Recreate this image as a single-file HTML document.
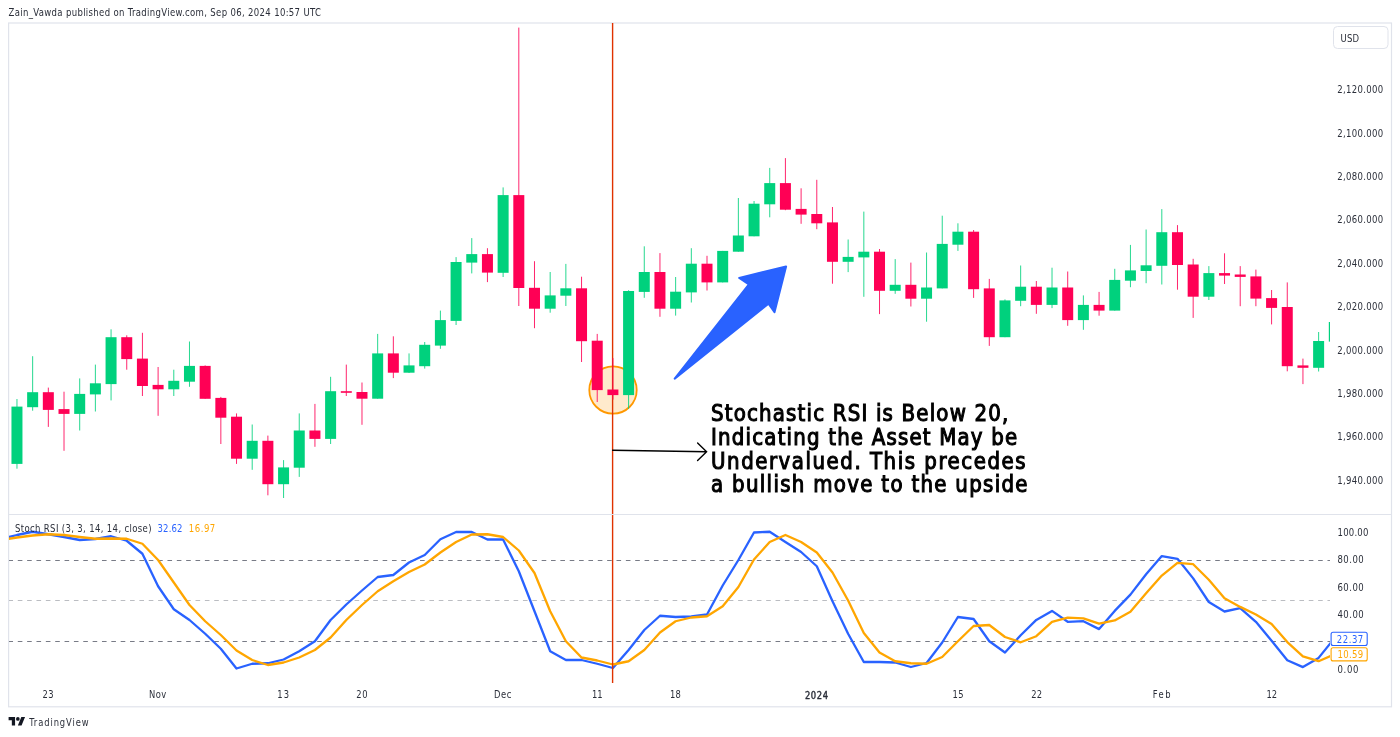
<!DOCTYPE html>
<html><head><meta charset="utf-8"><title>XAUUSD Stoch RSI chart</title>
<style>
html,body{margin:0;padding:0;background:#fff;}
body{width:1400px;height:737px;overflow:hidden;position:relative;}
svg{position:absolute;left:0;top:0;display:block;filter:blur(0.35px);}
text{font-family:"DejaVu Sans Condensed",Arial,sans-serif;}
.ax{font-size:9.48px;fill:#2a2e39;}
.dt{font-size:9.31px;}
.yr{stroke:#2a2e39;stroke-width:0.35px;}
.hdr{font-size:9.48px;fill:#2a2e39;}
.leg{font-size:9.48px;fill:#2a2e39;}
.note{font-family:"DejaVu Sans Condensed",Verdana,sans-serif;font-size:22.0px;fill:#000;stroke:#000;stroke-width:1.0px;}
.ft{font-size:9.31px;fill:#2a2e39;}
</style></head>
<body>
<svg width="1400" height="737" viewBox="0 0 1400 737">
<defs>
<clipPath id="mainclip"><rect x="9" y="23" width="1321" height="491"/></clipPath>
<clipPath id="subclip"><rect x="9" y="515" width="1321" height="168"/></clipPath>
</defs>
<rect x="0" y="0" width="1400" height="737" fill="#fff"/>
<text id="hdr" class="hdr" x="8.50" y="16.00" textLength="312.46" lengthAdjust="spacing" transform="matrix(1,0,0,1.1600,0,-2.560)">Zain_Vawda published on TradingView.com, Sep 06, 2024 10:57 UTC</text>
<rect x="8.6" y="23" width="1382.9" height="683.8" fill="none" stroke="#e0e3eb" stroke-width="1.2"/>
<rect x="9" y="514" width="1382" height="1" fill="#e0e3eb"/>

<g clip-path="url(#mainclip)">
<circle cx="613" cy="390" r="23.7" fill="#ff9800" fill-opacity="0.2" stroke="#ff9800" stroke-width="1.8"/>
<line x1="612.6" y1="23" x2="612.6" y2="514" stroke="#e03200" stroke-width="1.4"/>
<rect x="16.46" y="399.0" width="1" height="69.7" fill="#00d17d" fill-opacity="0.85"/>
<rect x="11.46" y="406.6" width="11" height="57.3" fill="#00d17d"/>
<rect x="32.14" y="356.2" width="1" height="54.5" fill="#00d17d" fill-opacity="0.85"/>
<rect x="27.14" y="392.2" width="11" height="15.0" fill="#00d17d"/>
<rect x="47.83" y="387.6" width="1" height="39.3" fill="#ff0055" fill-opacity="0.85"/>
<rect x="42.83" y="392.2" width="11" height="17.7" fill="#ff0055"/>
<rect x="63.51" y="391.7" width="1" height="59.1" fill="#ff0055" fill-opacity="0.85"/>
<rect x="58.51" y="409.1" width="11" height="4.8" fill="#ff0055"/>
<rect x="79.19" y="378.4" width="1" height="52.1" fill="#00d17d" fill-opacity="0.85"/>
<rect x="74.19" y="393.9" width="11" height="20.0" fill="#00d17d"/>
<rect x="94.87" y="364.6" width="1" height="46.9" fill="#00d17d" fill-opacity="0.85"/>
<rect x="89.87" y="383.3" width="11" height="11.1" fill="#00d17d"/>
<rect x="110.56" y="329.3" width="1" height="71.1" fill="#00d17d" fill-opacity="0.85"/>
<rect x="105.56" y="337.2" width="11" height="46.9" fill="#00d17d"/>
<rect x="126.24" y="335.3" width="1" height="34.4" fill="#ff0055" fill-opacity="0.85"/>
<rect x="121.24" y="337.2" width="11" height="21.9" fill="#ff0055"/>
<rect x="141.92" y="332.8" width="1" height="63.2" fill="#ff0055" fill-opacity="0.85"/>
<rect x="136.92" y="358.6" width="11" height="27.4" fill="#ff0055"/>
<rect x="157.60" y="367.0" width="1" height="48.8" fill="#ff0055" fill-opacity="0.85"/>
<rect x="152.60" y="384.9" width="11" height="4.4" fill="#ff0055"/>
<rect x="173.29" y="369.7" width="1" height="26.3" fill="#00d17d" fill-opacity="0.85"/>
<rect x="168.29" y="380.8" width="11" height="8.5" fill="#00d17d"/>
<rect x="188.97" y="341.5" width="1" height="45.3" fill="#00d17d" fill-opacity="0.85"/>
<rect x="183.97" y="365.9" width="11" height="15.8" fill="#00d17d"/>
<rect x="204.65" y="365.4" width="1" height="33.4" fill="#ff0055" fill-opacity="0.85"/>
<rect x="199.65" y="365.9" width="11" height="32.9" fill="#ff0055"/>
<rect x="220.34" y="396.9" width="1" height="47.1" fill="#ff0055" fill-opacity="0.85"/>
<rect x="215.34" y="397.9" width="11" height="19.8" fill="#ff0055"/>
<rect x="236.02" y="413.4" width="1" height="50.5" fill="#ff0055" fill-opacity="0.85"/>
<rect x="231.02" y="416.7" width="11" height="42.0" fill="#ff0055"/>
<rect x="251.70" y="424.5" width="1" height="45.3" fill="#00d17d" fill-opacity="0.85"/>
<rect x="246.70" y="440.8" width="11" height="17.9" fill="#00d17d"/>
<rect x="267.38" y="435.6" width="1" height="59.7" fill="#ff0055" fill-opacity="0.85"/>
<rect x="262.38" y="440.8" width="11" height="43.4" fill="#ff0055"/>
<rect x="283.07" y="460.1" width="1" height="37.9" fill="#00d17d" fill-opacity="0.85"/>
<rect x="278.07" y="467.4" width="11" height="16.8" fill="#00d17d"/>
<rect x="298.75" y="413.4" width="1" height="63.5" fill="#00d17d" fill-opacity="0.85"/>
<rect x="293.75" y="430.5" width="11" height="37.2" fill="#00d17d"/>
<rect x="314.43" y="403.9" width="1" height="42.9" fill="#ff0055" fill-opacity="0.85"/>
<rect x="309.43" y="430.5" width="11" height="8.4" fill="#ff0055"/>
<rect x="330.11" y="376.8" width="1" height="67.2" fill="#00d17d" fill-opacity="0.85"/>
<rect x="325.11" y="391.2" width="11" height="47.7" fill="#00d17d"/>
<rect x="345.80" y="364.6" width="1" height="31.4" fill="#ff0055" fill-opacity="0.85"/>
<rect x="340.80" y="391.2" width="11" height="1.6" fill="#ff0055"/>
<rect x="361.48" y="382.5" width="1" height="42.3" fill="#ff0055" fill-opacity="0.85"/>
<rect x="356.48" y="392.0" width="11" height="6.7" fill="#ff0055"/>
<rect x="377.16" y="333.9" width="1" height="64.8" fill="#00d17d" fill-opacity="0.85"/>
<rect x="372.16" y="353.4" width="11" height="45.3" fill="#00d17d"/>
<rect x="392.84" y="336.3" width="1" height="41.8" fill="#ff0055" fill-opacity="0.85"/>
<rect x="387.84" y="353.4" width="11" height="19.3" fill="#ff0055"/>
<rect x="408.53" y="353.4" width="1" height="19.6" fill="#00d17d" fill-opacity="0.85"/>
<rect x="403.53" y="365.4" width="11" height="7.3" fill="#00d17d"/>
<rect x="424.21" y="342.0" width="1" height="26.6" fill="#00d17d" fill-opacity="0.85"/>
<rect x="419.21" y="344.8" width="11" height="21.4" fill="#00d17d"/>
<rect x="439.89" y="310.6" width="1" height="38.2" fill="#00d17d" fill-opacity="0.85"/>
<rect x="434.89" y="320.1" width="11" height="25.5" fill="#00d17d"/>
<rect x="455.58" y="257.1" width="1" height="67.9" fill="#00d17d" fill-opacity="0.85"/>
<rect x="450.58" y="262.0" width="11" height="58.9" fill="#00d17d"/>
<rect x="471.26" y="238.1" width="1" height="35.3" fill="#00d17d" fill-opacity="0.85"/>
<rect x="466.26" y="254.1" width="11" height="8.5" fill="#00d17d"/>
<rect x="486.94" y="248.2" width="1" height="33.9" fill="#ff0055" fill-opacity="0.85"/>
<rect x="481.94" y="254.1" width="11" height="18.5" fill="#ff0055"/>
<rect x="502.62" y="187.4" width="1" height="89.6" fill="#00d17d" fill-opacity="0.85"/>
<rect x="497.62" y="195.1" width="11" height="77.7" fill="#00d17d"/>
<rect x="518.31" y="27.6" width="1" height="278.4" fill="#ff0055" fill-opacity="0.85"/>
<rect x="513.31" y="195.1" width="11" height="92.9" fill="#ff0055"/>
<rect x="533.99" y="261.2" width="1" height="67.0" fill="#ff0055" fill-opacity="0.85"/>
<rect x="528.99" y="287.8" width="11" height="20.9" fill="#ff0055"/>
<rect x="549.67" y="272.0" width="1" height="40.7" fill="#00d17d" fill-opacity="0.85"/>
<rect x="544.67" y="295.4" width="11" height="13.3" fill="#00d17d"/>
<rect x="565.35" y="263.9" width="1" height="42.1" fill="#00d17d" fill-opacity="0.85"/>
<rect x="560.35" y="288.3" width="11" height="7.4" fill="#00d17d"/>
<rect x="581.04" y="276.7" width="1" height="85.3" fill="#ff0055" fill-opacity="0.85"/>
<rect x="576.04" y="288.3" width="11" height="52.9" fill="#ff0055"/>
<rect x="596.72" y="333.9" width="1" height="68.1" fill="#ff0055" fill-opacity="0.85"/>
<rect x="591.72" y="340.7" width="11" height="49.4" fill="#ff0055"/>
<rect x="612.40" y="358.1" width="1" height="41.5" fill="#ff0055" fill-opacity="0.85"/>
<rect x="607.40" y="389.5" width="11" height="5.6" fill="#ff0055"/>
<rect x="628.09" y="290.2" width="1" height="118.6" fill="#00d17d" fill-opacity="0.85"/>
<rect x="623.09" y="291.0" width="11" height="104.1" fill="#00d17d"/>
<rect x="643.77" y="246.3" width="1" height="51.5" fill="#00d17d" fill-opacity="0.85"/>
<rect x="638.77" y="272.0" width="11" height="19.9" fill="#00d17d"/>
<rect x="659.45" y="253.1" width="1" height="63.7" fill="#ff0055" fill-opacity="0.85"/>
<rect x="654.45" y="272.0" width="11" height="36.7" fill="#ff0055"/>
<rect x="675.13" y="277.0" width="1" height="38.6" fill="#00d17d" fill-opacity="0.85"/>
<rect x="670.13" y="291.7" width="11" height="17.0" fill="#00d17d"/>
<rect x="690.82" y="248.2" width="1" height="54.3" fill="#00d17d" fill-opacity="0.85"/>
<rect x="685.82" y="263.7" width="11" height="28.7" fill="#00d17d"/>
<rect x="706.50" y="255.8" width="1" height="34.7" fill="#ff0055" fill-opacity="0.85"/>
<rect x="701.50" y="263.7" width="11" height="18.7" fill="#ff0055"/>
<rect x="722.18" y="250.9" width="1" height="31.5" fill="#00d17d" fill-opacity="0.85"/>
<rect x="717.18" y="250.9" width="11" height="31.5" fill="#00d17d"/>
<rect x="737.86" y="198.0" width="1" height="53.7" fill="#00d17d" fill-opacity="0.85"/>
<rect x="732.86" y="235.5" width="11" height="16.2" fill="#00d17d"/>
<rect x="753.55" y="201.0" width="1" height="35.3" fill="#00d17d" fill-opacity="0.85"/>
<rect x="748.55" y="203.7" width="11" height="32.6" fill="#00d17d"/>
<rect x="769.23" y="167.9" width="1" height="49.4" fill="#00d17d" fill-opacity="0.85"/>
<rect x="764.23" y="183.1" width="11" height="21.2" fill="#00d17d"/>
<rect x="784.91" y="158.1" width="1" height="52.1" fill="#ff0055" fill-opacity="0.85"/>
<rect x="779.91" y="183.1" width="11" height="26.6" fill="#ff0055"/>
<rect x="800.60" y="188.3" width="1" height="35.5" fill="#ff0055" fill-opacity="0.85"/>
<rect x="795.60" y="208.9" width="11" height="5.7" fill="#ff0055"/>
<rect x="816.28" y="179.8" width="1" height="49.4" fill="#ff0055" fill-opacity="0.85"/>
<rect x="811.28" y="214.0" width="11" height="9.3" fill="#ff0055"/>
<rect x="831.96" y="207.0" width="1" height="76.7" fill="#ff0055" fill-opacity="0.85"/>
<rect x="826.96" y="222.4" width="11" height="39.4" fill="#ff0055"/>
<rect x="847.64" y="239.5" width="1" height="32.6" fill="#00d17d" fill-opacity="0.85"/>
<rect x="842.64" y="256.9" width="11" height="4.9" fill="#00d17d"/>
<rect x="863.33" y="211.6" width="1" height="85.2" fill="#00d17d" fill-opacity="0.85"/>
<rect x="858.33" y="251.7" width="11" height="5.7" fill="#00d17d"/>
<rect x="879.01" y="249.0" width="1" height="65.1" fill="#ff0055" fill-opacity="0.85"/>
<rect x="874.01" y="251.7" width="11" height="39.1" fill="#ff0055"/>
<rect x="894.69" y="259.1" width="1" height="34.7" fill="#00d17d" fill-opacity="0.85"/>
<rect x="889.69" y="284.8" width="11" height="6.0" fill="#00d17d"/>
<rect x="910.37" y="262.6" width="1" height="43.9" fill="#ff0055" fill-opacity="0.85"/>
<rect x="905.37" y="284.8" width="11" height="13.9" fill="#ff0055"/>
<rect x="926.06" y="252.5" width="1" height="69.2" fill="#00d17d" fill-opacity="0.85"/>
<rect x="921.06" y="287.5" width="11" height="11.2" fill="#00d17d"/>
<rect x="941.74" y="215.7" width="1" height="72.7" fill="#00d17d" fill-opacity="0.85"/>
<rect x="936.74" y="243.9" width="11" height="44.5" fill="#00d17d"/>
<rect x="957.42" y="223.3" width="1" height="27.6" fill="#00d17d" fill-opacity="0.85"/>
<rect x="952.42" y="231.7" width="11" height="13.0" fill="#00d17d"/>
<rect x="973.10" y="230.0" width="1" height="67.9" fill="#ff0055" fill-opacity="0.85"/>
<rect x="968.10" y="231.7" width="11" height="57.5" fill="#ff0055"/>
<rect x="988.79" y="278.9" width="1" height="67.0" fill="#ff0055" fill-opacity="0.85"/>
<rect x="983.79" y="288.4" width="11" height="48.8" fill="#ff0055"/>
<rect x="1004.47" y="299.4" width="1" height="37.8" fill="#00d17d" fill-opacity="0.85"/>
<rect x="999.47" y="300.4" width="11" height="36.8" fill="#00d17d"/>
<rect x="1020.15" y="265.5" width="1" height="40.7" fill="#00d17d" fill-opacity="0.85"/>
<rect x="1015.15" y="286.7" width="11" height="14.1" fill="#00d17d"/>
<rect x="1035.84" y="281.0" width="1" height="32.8" fill="#ff0055" fill-opacity="0.85"/>
<rect x="1030.84" y="286.7" width="11" height="18.2" fill="#ff0055"/>
<rect x="1051.52" y="267.7" width="1" height="40.4" fill="#00d17d" fill-opacity="0.85"/>
<rect x="1046.52" y="287.5" width="11" height="17.4" fill="#00d17d"/>
<rect x="1067.20" y="271.5" width="1" height="54.3" fill="#ff0055" fill-opacity="0.85"/>
<rect x="1062.20" y="287.5" width="11" height="32.6" fill="#ff0055"/>
<rect x="1082.88" y="295.4" width="1" height="34.4" fill="#00d17d" fill-opacity="0.85"/>
<rect x="1077.88" y="304.9" width="11" height="15.2" fill="#00d17d"/>
<rect x="1098.57" y="291.9" width="1" height="23.8" fill="#ff0055" fill-opacity="0.85"/>
<rect x="1093.57" y="304.9" width="11" height="5.7" fill="#ff0055"/>
<rect x="1114.25" y="268.8" width="1" height="41.8" fill="#00d17d" fill-opacity="0.85"/>
<rect x="1109.25" y="279.9" width="11" height="30.7" fill="#00d17d"/>
<rect x="1129.93" y="244.9" width="1" height="42.3" fill="#00d17d" fill-opacity="0.85"/>
<rect x="1124.93" y="270.4" width="11" height="10.3" fill="#00d17d"/>
<rect x="1145.61" y="229.5" width="1" height="53.7" fill="#00d17d" fill-opacity="0.85"/>
<rect x="1140.61" y="265.3" width="11" height="5.7" fill="#00d17d"/>
<rect x="1161.30" y="209.1" width="1" height="75.4" fill="#00d17d" fill-opacity="0.85"/>
<rect x="1156.30" y="232.2" width="11" height="33.6" fill="#00d17d"/>
<rect x="1176.98" y="225.1" width="1" height="64.6" fill="#ff0055" fill-opacity="0.85"/>
<rect x="1171.98" y="232.2" width="11" height="32.8" fill="#ff0055"/>
<rect x="1192.66" y="258.8" width="1" height="59.1" fill="#ff0055" fill-opacity="0.85"/>
<rect x="1187.66" y="264.5" width="11" height="32.2" fill="#ff0055"/>
<rect x="1208.35" y="266.1" width="1" height="33.9" fill="#00d17d" fill-opacity="0.85"/>
<rect x="1203.35" y="273.1" width="11" height="23.6" fill="#00d17d"/>
<rect x="1224.03" y="253.3" width="1" height="30.7" fill="#ff0055" fill-opacity="0.85"/>
<rect x="1219.03" y="273.1" width="11" height="2.5" fill="#ff0055"/>
<rect x="1239.71" y="266.1" width="1" height="40.1" fill="#ff0055" fill-opacity="0.85"/>
<rect x="1234.71" y="274.5" width="11" height="2.4" fill="#ff0055"/>
<rect x="1255.39" y="269.6" width="1" height="36.6" fill="#ff0055" fill-opacity="0.85"/>
<rect x="1250.39" y="276.4" width="11" height="22.2" fill="#ff0055"/>
<rect x="1271.08" y="290.0" width="1" height="34.4" fill="#ff0055" fill-opacity="0.85"/>
<rect x="1266.08" y="298.1" width="11" height="9.8" fill="#ff0055"/>
<rect x="1286.76" y="282.4" width="1" height="88.9" fill="#ff0055" fill-opacity="0.85"/>
<rect x="1281.76" y="307.0" width="11" height="59.2" fill="#ff0055"/>
<rect x="1302.44" y="358.6" width="1" height="25.5" fill="#ff0055" fill-opacity="0.85"/>
<rect x="1297.44" y="365.4" width="11" height="2.4" fill="#ff0055"/>
<rect x="1318.12" y="332.0" width="1" height="39.5" fill="#00d17d" fill-opacity="0.85"/>
<rect x="1313.12" y="341.0" width="11" height="26.8" fill="#00d17d"/>
<rect x="1333.81" y="315.0" width="1" height="30.0" fill="#00d17d" fill-opacity="0.85"/>
<rect x="1328.81" y="322.0" width="11" height="19.6" fill="#00d17d"/>
</g>

<!-- price axis -->
<rect x="1333.5" y="26.5" width="54.5" height="22" rx="4" fill="#fff" stroke="#e0e3eb"/>
<text id="usd" class="ax" x="1340.50" y="41.80" textLength="18.54" lengthAdjust="spacing" transform="matrix(1,0,0,1.1600,0,-6.688)">USD</text>
<g class="ax">
<text x="1337.20" y="93.40" transform="matrix(1,0,0,1.1600,0,-14.944)" textLength="45.90" lengthAdjust="spacing">2,120.000</text>
<text x="1337.20" y="136.76" transform="matrix(1,0,0,1.1600,0,-21.882)" textLength="45.90" lengthAdjust="spacing">2,100.000</text>
<text x="1337.20" y="180.12" transform="matrix(1,0,0,1.1600,0,-28.819)" textLength="45.90" lengthAdjust="spacing">2,080.000</text>
<text x="1337.20" y="223.48" transform="matrix(1,0,0,1.1600,0,-35.757)" textLength="45.90" lengthAdjust="spacing">2,060.000</text>
<text x="1337.20" y="266.84" transform="matrix(1,0,0,1.1600,0,-42.694)" textLength="45.90" lengthAdjust="spacing">2,040.000</text>
<text x="1337.20" y="310.20" transform="matrix(1,0,0,1.1600,0,-49.632)" textLength="45.90" lengthAdjust="spacing">2,020.000</text>
<text x="1337.20" y="353.56" transform="matrix(1,0,0,1.1600,0,-56.570)" textLength="45.90" lengthAdjust="spacing">2,000.000</text>
<text x="1337.20" y="396.92" transform="matrix(1,0,0,1.1600,0,-63.507)" textLength="45.90" lengthAdjust="spacing">1,980.000</text>
<text x="1337.20" y="440.28" transform="matrix(1,0,0,1.1600,0,-70.445)" textLength="45.90" lengthAdjust="spacing">1,960.000</text>
<text x="1337.20" y="483.64" transform="matrix(1,0,0,1.1600,0,-77.382)" textLength="45.90" lengthAdjust="spacing">1,940.000</text>
</g>

<!-- indicator pane -->
<g clip-path="url(#subclip)">
<line x1="8.43" y1="560.5" x2="1330" y2="560.5" stroke="#787b86" stroke-width="1" stroke-dasharray="4.6,4.755"/>
<line x1="8.43" y1="600.5" x2="1330" y2="600.5" stroke="#787b86" stroke-opacity="0.5" stroke-width="1" stroke-dasharray="4.6,4.755"/>
<line x1="8.43" y1="641.5" x2="1330" y2="641.5" stroke="#787b86" stroke-width="1" stroke-dasharray="4.6,4.755"/>
<polyline points="1.3,539.00 17.0,535.00 32.6,531.75 48.3,534.25 64.0,537.00 79.7,540.00 95.4,539.00 111.1,536.25 126.7,540.75 142.4,553.75 158.1,586.25 173.8,609.25 189.5,620.00 205.2,633.75 220.8,648.75 236.5,668.50 252.2,663.75 267.9,663.25 283.6,659.50 299.2,651.25 314.9,641.25 330.6,620.00 346.3,604.50 362.0,590.50 377.7,577.00 393.3,575.00 409.0,562.50 424.7,555.00 440.4,539.25 456.1,532.00 471.8,532.00 487.4,539.50 503.1,539.50 518.8,571.25 534.5,611.25 550.2,651.25 565.9,660.00 581.5,660.00 597.2,663.75 612.9,668.00 628.6,650.00 644.3,630.00 660.0,615.75 675.6,617.00 691.3,616.50 707.0,614.50 722.7,585.50 738.4,560.00 754.0,532.50 769.7,531.75 785.4,542.00 801.1,552.00 816.8,566.25 832.5,601.25 848.1,633.75 863.8,662.00 879.5,662.00 895.2,662.50 910.9,667.00 926.6,663.00 942.2,642.50 957.9,617.00 973.6,619.00 989.3,641.25 1005.0,652.50 1020.7,635.20 1036.3,619.90 1052.0,610.90 1067.7,621.80 1083.4,621.20 1099.1,629.10 1114.7,610.90 1130.4,594.60 1146.1,574.30 1161.8,556.10 1177.5,558.80 1193.2,578.40 1208.8,602.00 1224.5,611.50 1240.2,608.20 1255.9,621.80 1271.6,640.80 1287.3,660.30 1302.9,667.10 1318.6,657.90 1334.3,638.40" fill="none" stroke="#2962ff" stroke-width="2.3" stroke-linejoin="round"/>
<polyline points="1.3,540.00 17.0,537.50 32.6,535.50 48.3,534.25 64.0,535.00 79.7,537.00 95.4,538.75 111.1,538.50 126.7,538.75 142.4,543.75 158.1,560.00 173.8,582.50 189.5,605.00 205.2,621.25 220.8,635.00 236.5,650.50 252.2,660.00 267.9,665.00 283.6,662.50 299.2,657.50 314.9,650.00 330.6,637.50 346.3,620.00 362.0,605.00 377.7,591.25 393.3,581.25 409.0,572.00 424.7,564.50 440.4,552.50 456.1,542.00 471.8,534.50 487.4,534.25 503.1,537.00 518.8,550.50 534.5,573.00 550.2,611.25 565.9,641.25 581.5,657.50 597.2,660.50 612.9,664.50 628.6,661.25 644.3,650.00 660.0,632.50 675.6,621.25 691.3,617.50 707.0,616.25 722.7,606.25 738.4,587.00 754.0,559.50 769.7,542.00 785.4,535.00 801.1,542.00 816.8,552.50 832.5,572.50 848.1,600.50 863.8,633.00 879.5,652.50 895.2,661.25 910.9,663.25 926.6,663.75 942.2,657.00 957.9,641.25 973.6,626.00 989.3,625.00 1005.0,637.00 1020.7,642.30 1036.3,636.20 1052.0,621.80 1067.7,617.70 1083.4,618.30 1099.1,623.70 1114.7,620.40 1130.4,611.70 1146.1,593.30 1161.8,575.60 1177.5,562.90 1193.2,564.20 1208.8,579.70 1224.5,598.20 1240.2,606.90 1255.9,614.50 1271.6,624.00 1287.3,642.10 1302.9,656.30 1318.6,661.20 1334.3,654.50" fill="none" stroke="#ffa600" stroke-width="2.3" stroke-linejoin="round"/>
<line x1="612.6" y1="515" x2="612.6" y2="683" stroke="#e03200" stroke-width="1.4"/>
</g>
<text id="leg" class="leg" x="15.04" y="531.80" textLength="136.46" lengthAdjust="spacing" transform="matrix(1,0,0,1.1600,0,-85.088)">Stoch RSI (3, 3, 14, 14, close)</text>
<text id="legk" class="leg" x="157.50" y="531.80" textLength="25.00" lengthAdjust="spacing" transform="matrix(1,0,0,1.1600,0,-85.088)" style="fill:#2962ff">32.62</text>
<text id="legd" class="leg" x="188.70" y="531.80" textLength="26.60" lengthAdjust="spacing" transform="matrix(1,0,0,1.1600,0,-85.088)" style="fill:#ffa600">16.97</text>
<g class="ax">
<text x="1337.50" y="535.97" transform="matrix(1,0,0,1.1600,0,-85.755)" textLength="30.90" lengthAdjust="spacing">100.00</text>
<text x="1337.50" y="563.36" transform="matrix(1,0,0,1.1600,0,-90.137)" textLength="26.20" lengthAdjust="spacing">80.00</text>
<text x="1337.50" y="590.74" transform="matrix(1,0,0,1.1600,0,-94.519)" textLength="26.20" lengthAdjust="spacing">60.00</text>
<text x="1337.50" y="618.13" transform="matrix(1,0,0,1.1600,0,-98.900)" textLength="26.20" lengthAdjust="spacing">40.00</text>
<text x="1337.50" y="672.90" transform="matrix(1,0,0,1.1600,0,-107.664)" textLength="20.90" lengthAdjust="spacing">0.00</text>
</g>
<rect x="1331.1" y="632.3" width="36.1" height="13.2" rx="2" fill="#fff" stroke="#2962ff" stroke-width="1.1"/>
<text id="lk" class="ax" x="1336.84" y="642.90" textLength="26.40" lengthAdjust="spacing" transform="matrix(1,0,0,1.1600,0,-102.864)" style="fill:#2962ff">22.37</text>
<rect x="1331.1" y="647.7" width="36.1" height="13.2" rx="2" fill="#fff" stroke="#ffa600" stroke-width="1.1"/>
<text id="ld" class="ax" x="1337.48" y="658.10" textLength="25.76" lengthAdjust="spacing" transform="matrix(1,0,0,1.1600,0,-105.296)" style="fill:#ffa600">10.59</text>

<!-- time axis -->
<text id="d_23" class="ax dt" x="42.50" y="698.40" textLength="11.00" lengthAdjust="spacing" transform="matrix(1,0,0,1.1600,0,-111.744)">23</text>
<text id="d_Nov" class="ax dt" x="149.08" y="698.30" textLength="17.04" lengthAdjust="spacing" transform="matrix(1,0,0,1.1600,0,-111.728)">Nov</text>
<text id="d_13" class="ax dt" x="277.35" y="698.30" textLength="11.80" lengthAdjust="spacing" transform="matrix(1,0,0,1.1600,0,-111.728)">13</text>
<text id="d_20" class="ax dt" x="356.15" y="698.30" textLength="11.35" lengthAdjust="spacing" transform="matrix(1,0,0,1.1600,0,-111.728)">20</text>
<text id="d_Dec" class="ax dt" x="494.00" y="698.30" textLength="17.35" lengthAdjust="spacing" transform="matrix(1,0,0,1.1600,0,-111.728)">Dec</text>
<text id="d_11" class="ax dt" x="592.00" y="698.30" textLength="10.50" lengthAdjust="spacing" transform="matrix(1,0,0,1.1600,0,-111.728)">11</text>
<text id="d_18" class="ax dt" x="670.00" y="698.30" textLength="10.85" lengthAdjust="spacing" transform="matrix(1,0,0,1.1600,0,-111.728)">18</text>
<text id="d_2024" class="ax dt yr" x="804.92" y="698.60" textLength="23.20" lengthAdjust="spacing" transform="matrix(1,0,0,1.1600,0,-111.776)">2024</text>
<text id="d_15" class="ax dt" x="952.50" y="698.30" textLength="11.00" lengthAdjust="spacing" transform="matrix(1,0,0,1.1600,0,-111.728)">15</text>
<text id="d_22" class="ax dt" x="1031.15" y="698.30" textLength="11.00" lengthAdjust="spacing" transform="matrix(1,0,0,1.1600,0,-111.728)">22</text>
<text id="d_Feb" class="ax dt" x="1152.85" y="698.30" textLength="17.65" lengthAdjust="spacing" transform="matrix(1,0,0,1.1600,0,-111.728)">Feb</text>
<text id="d_12" class="ax dt" x="1266.50" y="698.30" textLength="10.65" lengthAdjust="spacing" transform="matrix(1,0,0,1.1600,0,-111.728)">12</text>

<!-- drawings -->
<path d="M612.6 450.2 L706.6 451.8 M697.6 443 L706.6 451.8 L697.6 460.6" fill="none" stroke="#000" stroke-width="1.4" stroke-linecap="round"/>
<polygon points="674.7,378.7 748.9,284.3 739.2,277.9 786.1,266.4 774.5,312.2 768.5,303.6" fill="#2962ff" stroke="#2962ff" stroke-width="2" stroke-linejoin="round"/>
<text id="n0" class="note" x="711.08" y="420.60" textLength="297.22" lengthAdjust="spacing" transform="matrix(1,0,0,1.0100,0,-4.206)">Stochastic RSI is Below 20,</text>
<text id="n1" class="note" x="711.08" y="444.60" textLength="306.00" lengthAdjust="spacing" transform="matrix(1,0,0,1.0100,0,-4.446)">Indicating the Asset May be</text>
<text id="n2" class="note" x="711.08" y="469.00" textLength="314.46" lengthAdjust="spacing" transform="matrix(1,0,0,1.0100,0,-4.690)">Undervalued. This precedes</text>
<text id="n3" class="note" x="711.08" y="492.30" textLength="316.46" lengthAdjust="spacing" transform="matrix(1,0,0,1.0100,0,-4.923)">a bullish move to the upside</text>

<!-- footer logo -->
<g transform="translate(8.6,715.2) scale(0.463)" fill="#131722"><path d="M14 22H7V11H0V4h14v18zM28 22h-8l7.5-18h8L28 22z"/><circle cx="20" cy="8" r="4"/></g>
<text id="ft" class="ft" x="29.22" y="725.70" textLength="59.40" lengthAdjust="spacing" transform="matrix(1,0,0,1.1600,0,-116.112)">TradingView</text>
</svg>
</body></html>
